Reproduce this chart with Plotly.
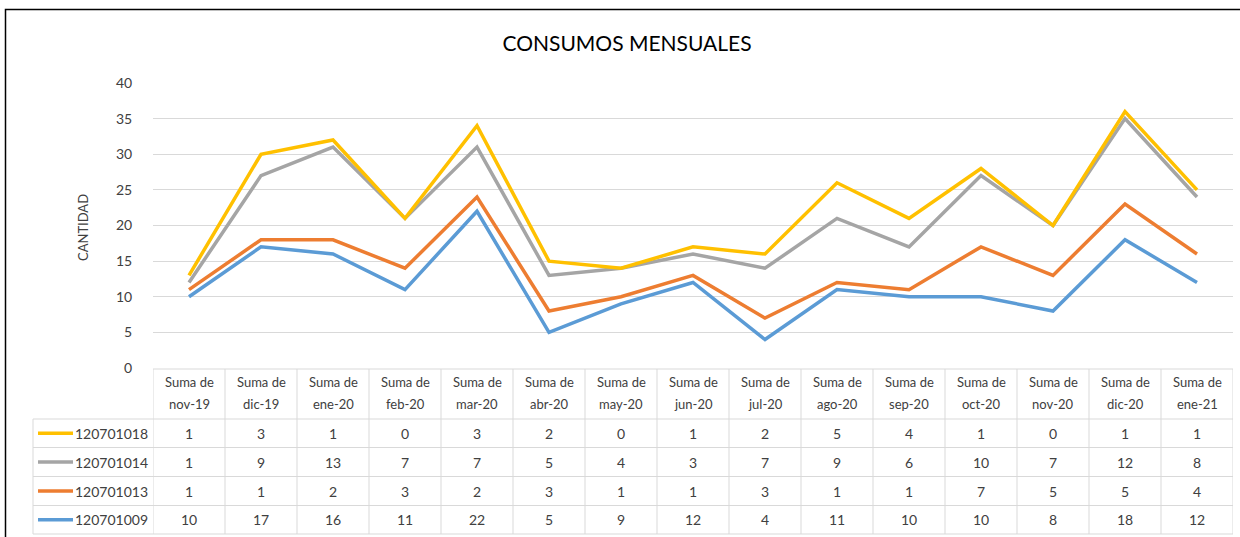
import plotly.graph_objects as go

months = ["nov-19", "dic-19", "ene-20", "feb-20", "mar-20", "abr-20", "may-20", "jun-20",
          "jul-20", "ago-20", "sep-20", "oct-20", "nov-20", "dic-20", "ene-21"]
s_120701018 = [1, 3, 1, 0, 3, 2, 0, 1, 2, 5, 4, 1, 0, 1, 1]
s_120701014 = [1, 9, 13, 7, 7, 5, 4, 3, 7, 9, 6, 10, 7, 12, 8]
s_120701013 = [1, 1, 2, 3, 2, 3, 1, 1, 3, 1, 1, 7, 5, 5, 4]
s_120701009 = [10, 17, 16, 11, 22, 5, 9, 12, 4, 11, 10, 10, 8, 18, 12]

series_names = ["120701018", "120701014", "120701013", "120701009"]
series_vals = [s_120701018, s_120701014, s_120701013, s_120701009]
colors = ["#FFC000", "#A5A5A5", "#ED7D31", "#5B9BD5"]

W, H = 1240, 537
L, R, T, B = 153, 1233, 83, 368
FONT = "Lato, Liberation Sans, Arial"
TXT = "#404040"
GRID = "#D9D9D9"

def px(p):
    return (p - L) / (R - L)

def py(p):
    return (B - p) / (B - T)

# stacked lines (drawn bottom to top)
fig = go.Figure()
cum = [0] * len(months)
stacks = []
for vals in reversed(series_vals):
    cum = [c + v for c, v in zip(cum, vals)]
    stacks.append(list(cum))
stacks = list(reversed(stacks))

for name, col, ys in reversed(list(zip(series_names, colors, stacks))):
    fig.add_trace(go.Scatter(x=months, y=ys, mode="lines", name=name,
                             line=dict(color=col, width=3.5), showlegend=False))

shapes = []
annotations = []

# outer frame
shapes.append(dict(type="rect", xref="paper", yref="paper",
                   x0=px(5.5), x1=px(1260), y0=py(560), y1=py(9.5),
                   line=dict(color="#000000", width=1.5), layer="below"))

# table geometry (pixel rows)
header_top, header_bot = 369, 419
row_edges = [419, 447.5, 476.5, 505.5, 534]
legend_left = 33

shapes.append(dict(type="line", xref="paper", yref="paper", x0=0, x1=1,
                   y0=py(header_top), y1=py(header_top), line=dict(color=GRID, width=1)))
for e in row_edges:
    shapes.append(dict(type="line", xref="paper", yref="paper", x0=px(legend_left), x1=1,
                       y0=py(e), y1=py(e), line=dict(color=GRID, width=1)))
n = len(months)
for i in range(n + 1):
    shapes.append(dict(type="line", xref="x", yref="paper", x0=i - 0.5, x1=i - 0.5,
                       y0=py(header_top), y1=py(row_edges[-1]), line=dict(color=GRID, width=1)))
shapes.append(dict(type="line", xref="paper", yref="paper", x0=px(legend_left), x1=px(legend_left),
                   y0=py(row_edges[0]), y1=py(row_edges[-1]), line=dict(color=GRID, width=1)))

for m in months:
    for txt, yy in (("Suma de", 382), (m, 404)):
        annotations.append(dict(x=m, xref="x", y=py(yy), yref="paper",
                                text=txt, showarrow=False, xanchor="center",
                                yanchor="middle",
                                font=dict(family=FONT, size=13, color=TXT)))

for r, (name, col, vals) in enumerate(zip(series_names, colors, series_vals)):
    yc = (row_edges[r] + row_edges[r + 1]) / 2
    shapes.append(dict(type="line", xref="paper", yref="paper", x0=px(38), x1=px(73),
                       y0=py(yc), y1=py(yc), line=dict(color=col, width=3.5)))
    annotations.append(dict(x=px(150), xref="paper", y=py(yc), yref="paper", text=name,
                            showarrow=False, xanchor="right", yanchor="middle",
                            font=dict(family=FONT, size=14, color=TXT)))
    for m, v in zip(months, vals):
        annotations.append(dict(x=m, xref="x", y=py(yc), yref="paper", text=str(v),
                                showarrow=False, xanchor="center", yanchor="middle",
                                font=dict(family=FONT, size=14, color=TXT)))

annotations.append(dict(x=px(83), xref="paper", y=py(228), yref="paper", text="CANTIDAD",
                        textangle=-90, showarrow=False, xanchor="center", yanchor="middle",
                        font=dict(family=FONT, size=13, color=TXT)))

fig.update_layout(
    width=W, height=H,
    margin=dict(l=L, r=W - R, t=T, b=H - B),
    paper_bgcolor="white", plot_bgcolor="white",
    title=dict(text="CONSUMOS MENSUALES", x=627 / W, xanchor="center", y=1 - 44 / H,
               yanchor="middle", font=dict(family="Lato, Liberation Sans", size=21, color="#000000")),
    xaxis=dict(type="category", categoryorder="array", categoryarray=months,
               range=[-0.5, n - 0.5], showticklabels=False, showgrid=False,
               zeroline=False, showline=False, ticks=""),
    yaxis=dict(range=[0, 40], dtick=5, showgrid=True, gridcolor=GRID, gridwidth=1,
               zeroline=False, showline=False, ticks="outside", ticklen=17,
               tickcolor="rgba(0,0,0,0)",
               tickfont=dict(family=FONT, size=14, color=TXT)),
    shapes=shapes, annotations=annotations,
)

fig.write_html("out.html", config={"displayModeBar": False},
               post_script="document.body.style.margin='0';document.body.style.overflow='hidden';")
